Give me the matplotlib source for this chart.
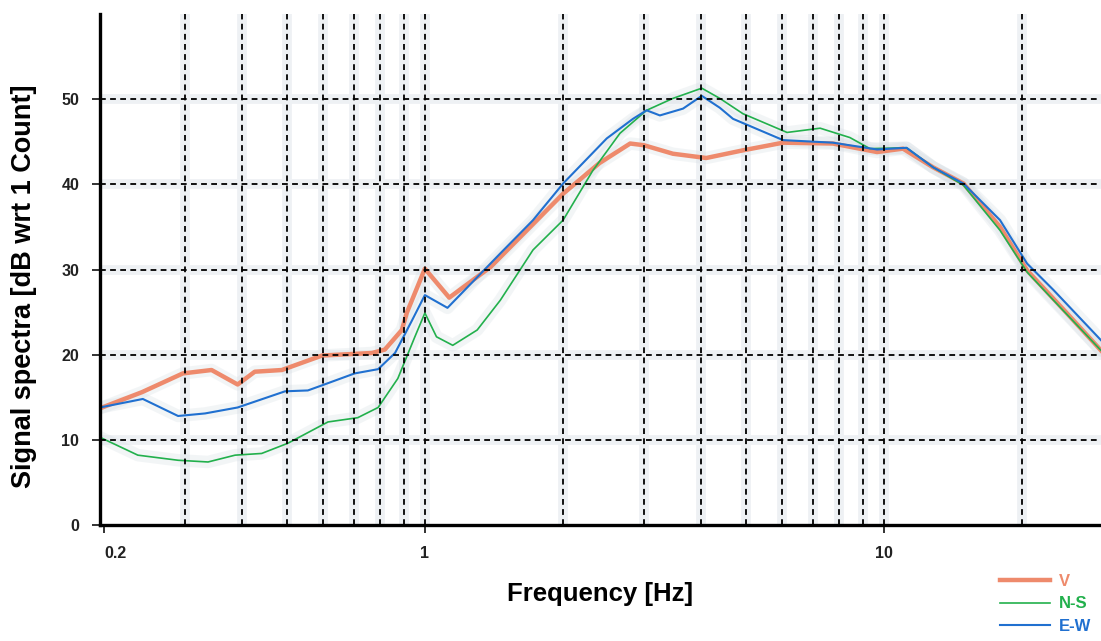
import matplotlib
matplotlib.use('Agg')
import matplotlib.pyplot as plt

# frequency [Hz] / level [dB]
v_freq = [0.196, 0.242, 0.297, 0.343, 0.391, 0.426, 0.488, 0.597, 0.767, 0.818,
          0.891, 0.913, 1.0, 1.13, 1.39, 2.0, 2.40, 2.80, 3.0, 3.47, 4.1, 4.93,
          6.03, 7.74, 9.66, 11.0, 12.8, 14.9, 17.9, 20.5, 25.0, 29.7]
v_db = [13.7, 15.6, 17.8, 18.2, 16.5, 18.0, 18.2, 19.9, 20.2, 20.6,
        22.9, 24.9, 30.1, 26.7, 30.3, 38.9, 42.5, 44.8, 44.6, 43.6, 43.1, 44.0,
        44.9, 44.8, 43.8, 44.2, 42.0, 40.1, 35.0, 29.9, 24.9, 20.5]

ns_freq = [0.196, 0.237, 0.290, 0.337, 0.386, 0.441, 0.503, 0.615, 0.714, 0.791,
           0.873, 0.951, 1.0, 1.06, 1.15, 1.30, 1.46, 1.72, 2.0, 2.32, 2.66, 3.04,
           3.47, 4.01, 4.39, 4.93, 6.15, 7.26, 8.43, 9.32, 11.2, 12.8, 14.9, 17.9,
           20.5, 23.4, 29.7]
ns_db = [10.3, 8.2, 7.6, 7.4, 8.2, 8.4, 9.6, 12.1, 12.6, 13.8,
         17.2, 22.1, 24.9, 22.1, 21.1, 22.9, 26.4, 32.3, 35.8, 41.6, 46.0, 48.7,
         50.1, 51.3, 50.1, 48.3, 46.1, 46.6, 45.5, 44.2, 44.3, 42.0, 39.9, 34.6,
         29.7, 26.4, 20.5]

ew_freq = [0.196, 0.243, 0.290, 0.332, 0.391, 0.496, 0.556, 0.597, 0.703, 0.791,
           0.861, 0.937, 1.0, 1.12, 1.46, 1.72, 2.0, 2.49, 2.84, 3.04, 3.25, 3.65,
           4.01, 4.39, 4.69, 6.03, 7.74, 9.66, 11.2, 12.8, 14.9, 17.9, 20.5, 23.4,
           29.7]
ew_db = [13.8, 14.8, 12.8, 13.1, 13.8, 15.7, 15.8, 16.4, 17.8, 18.3,
         20.2, 24.0, 27.0, 25.5, 31.9, 35.8, 40.1, 45.4, 47.7, 48.7, 48.1, 48.9,
         50.4, 49.0, 47.7, 45.2, 44.9, 44.1, 44.3, 42.0, 40.1, 35.8, 30.7, 27.6,
         21.7]

grid_freqs = [0.3, 0.4, 0.5, 0.6, 0.7, 0.8, 0.9, 1, 2, 3, 4, 5, 6, 7, 8, 9, 10, 20]
y_ticks = [0, 10, 20, 30, 40, 50]
x_ticks = [0.2, 1, 10]
x_ticklabels = ['0.2', '1', '10']

plt.rcParams['font.family'] = ['Liberation Sans', 'DejaVu Sans']

fig = plt.figure(figsize=(11.01, 6.41), dpi=100)
ax = fig.add_axes([0.0908, 0.181, 0.9092, 0.797])

series = [
    (v_freq, v_db, 'V', '#ee8a6c', 3.2),
    (ns_freq, ns_db, 'N-S', '#22b04c', 1.2),
    (ew_freq, ew_db, 'E-W', '#2070d0', 1.5),
]
# pale speckled band around each trace
for f, db, name, col, lw in series:
    ax.plot(f, db, color='#cfd8df', lw=9, alpha=0.25, solid_capstyle='round', zorder=1)
for f, db, name, col, lw in series:
    ax.plot(f, db, color=col, lw=lw, label=name, zorder=3)

ax.set_xscale('log')
ax.set_xlim(0.196, 29.7)
ax.set_ylim(0, 60)

# grid: faint halo then black dashes, on top of the traces
for f in grid_freqs:
    ax.axvline(f, color='#eef1f4', lw=7, zorder=0)
    ax.axvline(f, color='black', lw=1.3, ls=(0, (3.2, 2.4)), zorder=4)
for y in y_ticks[1:]:
    ax.axhline(y, color='#eef1f4', lw=7, zorder=0)
    ax.axhline(y, color='black', lw=1.3, ls=(0, (3.2, 2.4)), zorder=4)

ax.set_xticks(x_ticks)
ax.set_xticklabels(x_ticklabels)
ax.xaxis.set_minor_locator(matplotlib.ticker.NullLocator())
ax.get_xticklabels()[0].set_ha('left')
ax.set_yticks(y_ticks)
ax.tick_params(axis='both', labelsize=11.5, colors='#222222', width=1.3, length=6)
ax.tick_params(axis='x', pad=9)
ax.tick_params(axis='y', pad=9)
for lab in ax.get_xticklabels() + ax.get_yticklabels():
    lab.set_fontweight('bold')

for s in ['top', 'right']:
    ax.spines[s].set_visible(False)
for s in ['left', 'bottom']:
    ax.spines[s].set_linewidth(2.4)
    ax.spines[s].set_zorder(5)

ax.set_xlabel('Frequency [Hz]', fontsize=18.5, fontweight='bold', labelpad=15)
ax.set_ylabel('Signal spectra [dB wrt 1 Count]', fontsize=19.5, fontweight='bold')
ax.yaxis.set_label_coords(-0.063, 0.468)

ax.legend(loc='upper left', bbox_to_anchor=(0.895, 0.128), bbox_transform=fig.transFigure,
          frameon=False, labelcolor='linecolor', handlelength=3.0, handletextpad=0.5,
          labelspacing=0.45, prop={'size': 12, 'weight': 'bold'})

fig.savefig('out.png', dpi=100)
